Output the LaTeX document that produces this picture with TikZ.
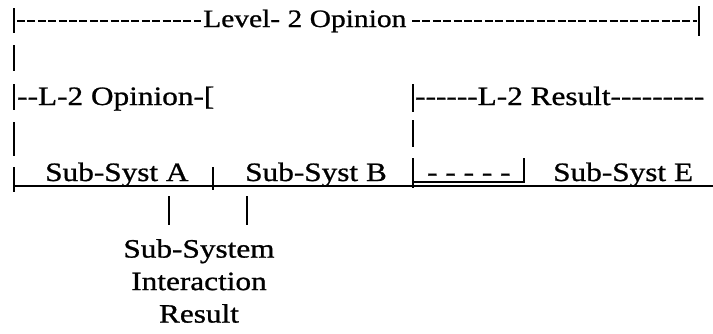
\documentclass[tikz,border=0pt]{standalone}
\usepackage{fontspec}
\setmainfont{Liberation Serif}[FakeStretch=1.18,FakeBold=0.9,Ligatures=TeXOff]
\usetikzlibrary{calc}
\tikzset{
	txt/.style={inner sep=0pt, anchor=base west, font=\fontsize{26.5}{32.5}\selectfont},
	bar/.style={line width=1.5pt},
	hyph/.style={line width=1.7pt, dash pattern=on 8pt off 2.4pt}
}

\begin{document}
\begin{tikzpicture}[x=1pt, y=-1pt]
		%%%%% START %%%%%
		\useasboundingbox (0, 0) rectangle (713, 333);
		
		% level 2
		\node[txt, font=\fontsize{25}{30}\selectfont] (lvl) at (203, 27) {Level- 2 Opinion};
		\draw[hyph] (17, 21) -- (201, 21);
		\draw[hyph] (412, 21) -- (697, 21);
		\draw[bar] (14, 8) -- (14, 33);
		\draw[bar] (699, 6) -- (699, 36);
		
		\draw[bar] (14, 45) -- (14, 71);
		
		% L-2 row
		\node[txt] (opn) at (17, 105) {--L-2 Opinion-[};
		\node[txt] (res) at (415, 105) {------L-2 Result---------};
		\draw[bar] (14, 84) -- (14, 110);
		\draw[bar] (413, 84) -- (413, 112);
		
		\draw[bar] (14, 122) -- (14, 156);
		\draw[bar] (413, 120) -- (413, 147);
		
		% sub-systems
		\node[txt] (sysa) at (45, 181) {Sub-Syst A};
		\node[txt] (sysb) at (245, 181) {Sub-Syst B};
		\node[txt] (dots) at (427, 181) {- - - - -};
		\node[txt] (syse) at (553, 181) {Sub-Syst E};
		\draw[bar] (14, 167) -- (14, 192);
		\draw[bar] (213, 167) -- (213, 190);
		\draw[bar] (413, 158) -- (413, 188);
		\draw[bar] (524, 158) -- (524, 183);
		\draw[line width=1.2pt] (413, 182) -- (524, 182);
		\draw[line width=1.2pt] (14, 186) -- (713, 186);
		
		% interaction
		\node[txt, anchor=north, align=center] (intres) at (199, 239) {Sub-System\\Interaction\\Result};
		\draw[bar] ($(sysa.base east)+(-20, 15)$) -- ($(sysa.base east |- intres.north)+(-20, -14)$);
		\draw[bar] ($(sysb.base west)+(2, 15)$) -- ($(sysb.base west |- intres.north)+(2, -14)$);
		
		%%%%% END %%%%%
\end{tikzpicture}
\end{document}
